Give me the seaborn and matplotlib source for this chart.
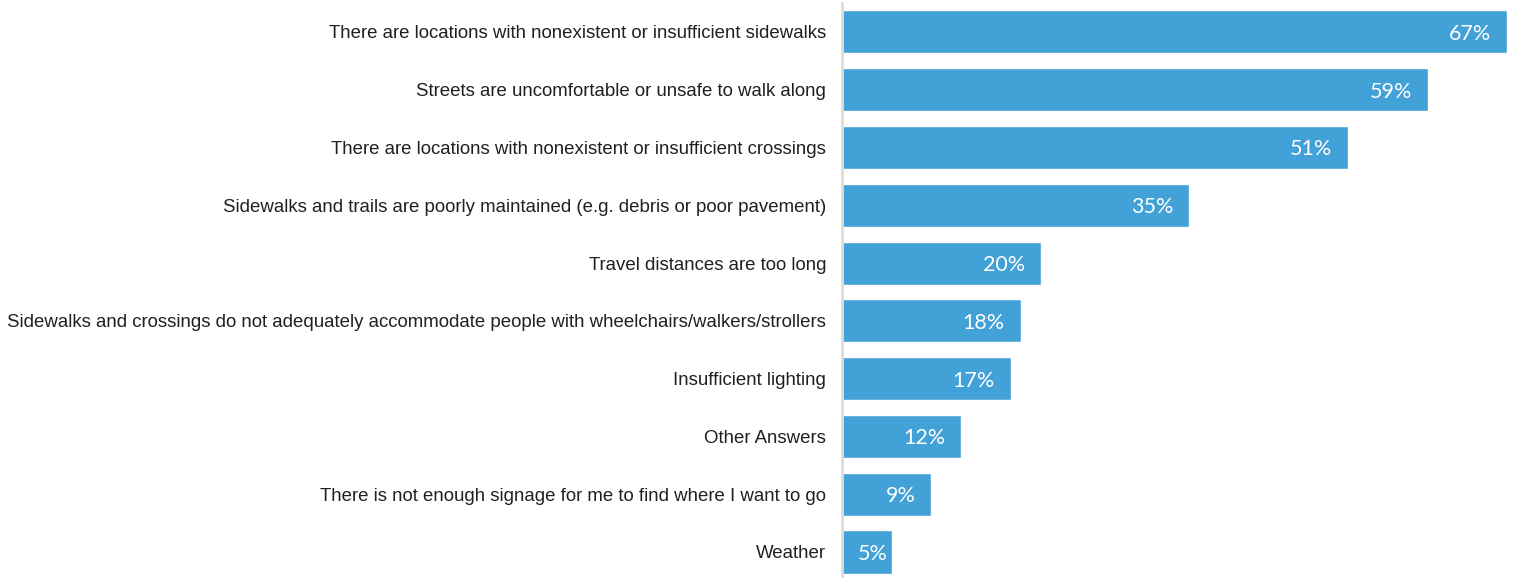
import matplotlib
matplotlib.use("Agg")
import matplotlib.pyplot as plt
import seaborn as sns
import pandas as pd

# survey answers, top to bottom
categories = [
    "There are locations with nonexistent or insufficient sidewalks",
    "Streets are uncomfortable or unsafe to walk along",
    "There are locations with nonexistent or insufficient crossings",
    "Sidewalks and trails are poorly maintained (e.g. debris or poor pavement)",
    "Travel distances are too long",
    "Sidewalks and crossings do not adequately accommodate people with wheelchairs/walkers/strollers",
    "Insufficient lighting",
    "Other Answers",
    "There is not enough signage for me to find where I want to go",
    "Weather",
]
percents = [67, 59, 51, 35, 20, 18, 17, 12, 9, 5]

df = pd.DataFrame({"answer": categories, "pct": percents})

sns.set_style("white")
fig = plt.figure(figsize=(15.13, 5.78), dpi=100)
ax = fig.add_axes([842 / 1513, 0, (1507 - 842) / 1513, 575 / 578])

sns.barplot(data=df, x="pct", y="answer", orient="h", color="#42a1d7",
            saturation=1, width=0.745, ax=ax)

ax.set_xlim(0, 67)
ax.set_ylim(9.45, -0.5)
ax.set_xlabel("")
ax.set_ylabel("")
ax.set_xticks([])
ax.tick_params(axis="y", length=0, pad=11.5)
for lab in ax.get_yticklabels():
    lab.set_fontfamily("Liberation Sans")
    lab.set_fontsize(13.4)
    lab.set_color("#231f20")

for side in ["top", "right", "bottom"]:
    ax.spines[side].set_visible(False)
ax.spines["left"].set_color("#dcdcdc")
ax.spines["left"].set_linewidth(2)

for i, v in enumerate(percents):
    # the shortest bar has its label pushed close to the end
    off = 1.6 if v > 6 else 0.4
    ax.text(v - off, i, f"{v}%", ha="right", va="center_baseline",
            color="white", fontsize=15.5, fontfamily="Lato")

fig.savefig("out.png", dpi=100)
